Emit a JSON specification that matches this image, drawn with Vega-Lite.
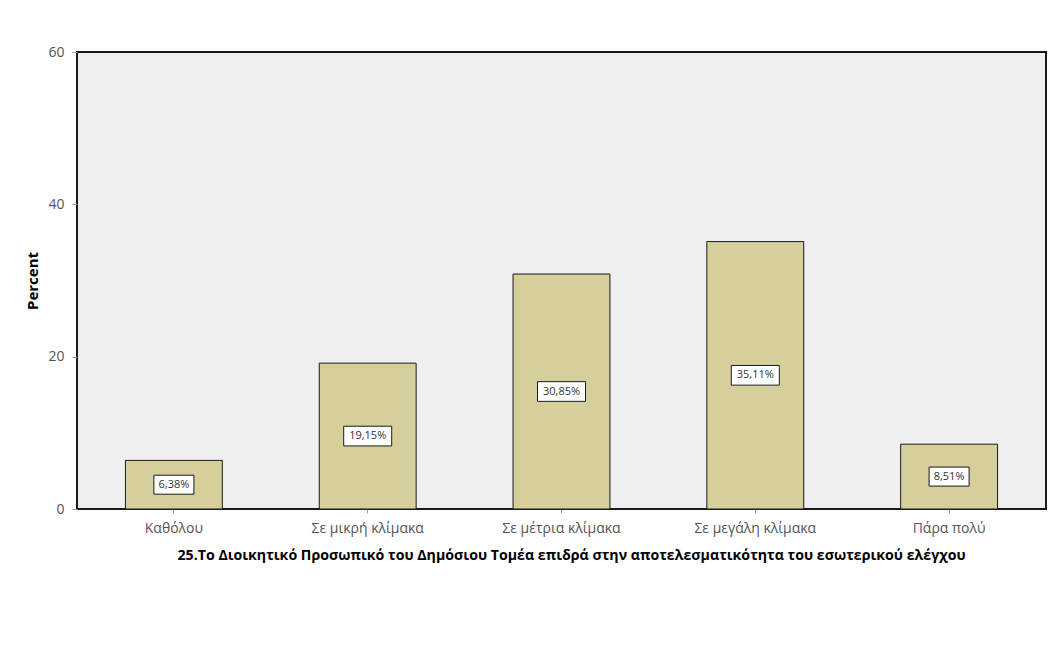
{
  "$schema": "https://vega.github.io/schema/vega-lite/v6.json",
  "width": 969,
  "height": 457,
  "autosize": "none",
  "padding": {"left": 77, "top": 52, "right": 18, "bottom": 161},
  "background": "white",
  "config": {
    "font": "Open Sans",
    "view": {"fill": "#efefef", "stroke": "#1a1a1a", "strokeWidth": 2},
    "locale": {
      "number": {"decimal": ",", "thousands": ".", "grouping": [3], "currency": ["", "%"]}
    }
  },
  "data": {
    "values": [
      {"category": "Καθόλου", "pct": 6.38},
      {"category": "Σε μικρή κλίμακα", "pct": 19.15},
      {"category": "Σε μέτρια κλίμακα", "pct": 30.85},
      {"category": "Σε μεγάλη κλίμακα", "pct": 35.11},
      {"category": "Πάρα πολύ", "pct": 8.51}
    ]
  },
  "encoding": {
    "x": {
      "field": "category",
      "type": "nominal",
      "sort": null,
      "scale": {"paddingInner": 0.5, "paddingOuter": 0.25},
      "axis": {
        "title": "25.Το Διοικητικό Προσωπικό του Δημόσιου Τομέα επιδρά στην αποτελεσματικότητα του εσωτερικού ελέγχου",
        "titleFontSize": 14.2,
        "titleFontWeight": "bold",
        "titleColor": "#000000",
        "titlePadding": 13,
        "titleX": 494,
        "labelAngle": 0,
        "labelFontSize": 14,
        "labelColor": "#555555",
        "labelPadding": 8,
        "domain": false,
        "ticks": true,
        "tickSize": 4,
        "tickColor": "#999999"
      }
    }
  },
  "layer": [
    {
      "mark": {"type": "bar", "fill": "#d4cf9b", "stroke": "#1a1a1a", "strokeWidth": 1},
      "encoding": {
        "y": {
          "field": "pct",
          "type": "quantitative",
          "scale": {"domain": [0, 60], "nice": false},
          "axis": {
            "title": "Percent",
            "values": [0, 20, 40, 60],
            "grid": false,
            "domain": false,
            "titleFontSize": 15,
            "titleFontWeight": "bold",
            "titleColor": "#000000",
            "titlePadding": 7,
            "labelFontSize": 14,
            "labelColor": "#555555",
            "labelPadding": 8,
            "tickSize": 5,
            "tickColor": "#999999"
          }
        }
      }
    },
    {
      "mark": {"type": "point", "filled": true, "fill": "white", "stroke": "#1a1a1a", "strokeWidth": 1, "opacity": 1},
      "encoding": {
        "y": {"field": "pct", "type": "quantitative", "scale": {"domain": [0, 120], "nice": false}, "axis": null},
        "shape": {
          "condition": {"test": "datum.pct < 10", "value": "M-1,-0.475L1,-0.475L1,0.475L-1,0.475Z"},
          "value": "M-1,-0.41L1,-0.41L1,0.41L-1,0.41Z"
        },
        "size": {
          "condition": {"test": "datum.pct < 10", "value": 1600},
          "value": 2304
        }
      }
    },
    {
      "mark": {"type": "text", "fontSize": 11, "color": "#333333"},
      "encoding": {
        "y": {"field": "pct", "type": "quantitative", "scale": {"domain": [0, 120], "nice": false}, "axis": null},
        "text": {"field": "pct", "type": "quantitative", "format": "$.2f"}
      }
    }
  ],
  "resolve": {"scale": {"y": "independent"}}
}
